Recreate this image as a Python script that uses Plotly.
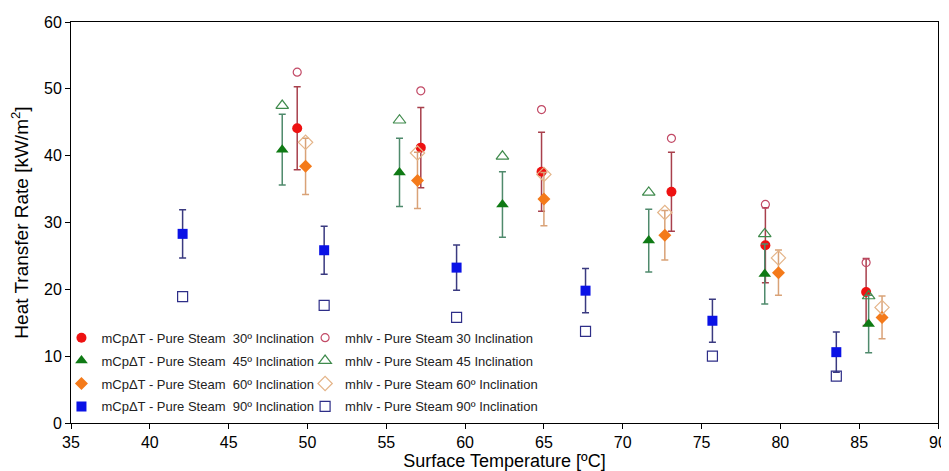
import plotly.graph_objects as go

# Surface temperature (x) for each series
x_30 = [49.35, 57.19, 64.85, 73.09, 79.05, 85.44]
x_45 = [48.40, 55.84, 62.37, 71.65, 79.01, 85.60]
x_60 = [49.88, 56.98, 65.00, 72.67, 79.88, 86.45]
x_90 = [42.08, 51.06, 59.46, 67.64, 75.69, 83.55]

# mCpΔT heat transfer rate and error
q_mcp_30 = [44.1, 41.2, 37.6, 34.6, 26.6, 19.6]
err_30 = [6.2, 6.0, 5.9, 5.9, 5.6, 5.0]
q_mcp_45 = [40.9, 37.5, 32.7, 27.3, 22.3, 14.8]
err_45 = [5.3, 5.1, 4.9, 4.7, 4.5, 4.3]
q_mcp_60 = [38.4, 36.3, 33.5, 28.1, 22.5, 15.8]
err_60 = [4.2, 4.2, 4.0, 3.7, 3.4, 3.2]
q_mcp_90 = [28.3, 25.85, 23.25, 19.8, 15.3, 10.6]
err_90 = [3.6, 3.6, 3.4, 3.3, 3.2, 3.0]

# mhlv heat transfer rate
q_mhlv_30 = [52.5, 49.7, 46.9, 42.6, 32.7, 24.0]
q_mhlv_45 = [47.5, 45.3, 39.9, 34.5, 28.3, 19.0]
q_mhlv_60 = [42.0, 40.4, 37.2, 31.5, 24.7, 17.3]
q_mhlv_90 = [18.9, 17.6, 15.8, 13.7, 10.0, 7.0]

NB = "\u00a0"
names_mcp = [
    "mCpΔT - Pure Steam " + NB + "30º Inclination",
    "mCpΔT - Pure Steam " + NB + "45º Inclination",
    "mCpΔT - Pure Steam " + NB + "60º Inclination",
    "mCpΔT - Pure Steam " + NB + "90º Inclination",
]
names_mhlv = [
    "mhlv - Pure Steam 30 Inclination",
    "mhlv - Pure Steam 45 Inclination",
    "mhlv - Pure Steam 60º Inclination",
    "mhlv - Pure Steam 90º Inclination",
]

fig = go.Figure()

mcp_specs = [
    (x_30, q_mcp_30, err_30, "circle", "#ee1111", "#a8404c", 10),
    (x_45, q_mcp_45, err_45, "triangle-up", "#0f7a14", "#4f8a6c", 11),
    (x_60, q_mcp_60, err_60, "diamond", "#f47a1a", "#d9a277", 10),
    (x_90, q_mcp_90, err_90, "square", "#0a12e6", "#3a3a80", 10),
]
mhlv_specs = [
    (x_30, q_mhlv_30, "circle-open", "#c24a66", 8),
    (x_45, q_mhlv_45, "triangle-up-open", "#3f8a4c", 11),
    (x_60, q_mhlv_60, "diamond-open", "#e4b488", 11),
    (x_90, q_mhlv_90, "square-open", "#2e2e88", 10),
]

for i, (xs, ys, es, sym, col, ecol, sz) in enumerate(mcp_specs):
    fig.add_trace(go.Scatter(
        x=xs, y=ys, mode="markers", name=names_mcp[i],
        legendgroup="a%d" % i, legend="legend",
        marker=dict(symbol=sym, color=col, size=sz, line=dict(width=0)),
        error_y=dict(type="data", array=es, visible=True, color=ecol,
                     thickness=1.5, width=3.5),
    ))

for i, (xs, ys, sym, col, sz) in enumerate(mhlv_specs):
    fig.add_trace(go.Scatter(
        x=xs, y=ys, mode="markers", name=names_mhlv[i],
        legendgroup="b%d" % i, legend="legend2",
        marker=dict(symbol=sym, color=col, size=sz, line=dict(width=1.2, color=col)),
    ))

font_main = "Liberation Sans, Arial, sans-serif"
leg_common = dict(
    font=dict(family=font_main, size=13, color="#222222"),
    bgcolor="rgba(255,255,255,0)", borderwidth=0,
    orientation="v", xanchor="left", yanchor="top",
    tracegroupgap=3, itemsizing="trace",
)

# page body has an 8px margin: size figure so plot area lands where the reference has it
fig.update_layout(
    width=941, height=463,
    margin=dict(l=63, r=11, t=14, b=48, autoexpand=False),
    paper_bgcolor="white", plot_bgcolor="white",
    font=dict(family=font_main, color="black"),
    showlegend=True,
    legend=dict(x=-0.011, y=0.25, **leg_common),
    legend2=dict(x=0.27, y=0.25, **leg_common),
    xaxis=dict(
        range=[35, 90], dtick=5, tick0=35, automargin=False,
        showgrid=False, zeroline=False,
        showline=True, linecolor="black", linewidth=1, mirror=True,
        ticks="outside", ticklen=5, tickcolor="black",
        tickfont=dict(family=font_main, size=16, color="black"),
        title=dict(text="Surface Temperature [ºC]", standoff=1,
                   font=dict(family=font_main, size=18, color="black")),
    ),
    yaxis=dict(
        range=[0, 60], dtick=10, automargin=False,
        showgrid=False, zeroline=False,
        showline=True, linecolor="black", linewidth=1, mirror=True,
        ticks="outside", ticklen=5, tickcolor="black",
        tickfont=dict(family=font_main, size=16, color="black"),
        title=dict(text="Heat Transfer Rate [kW/m<sup>2</sup>]", standoff=15,
                   font=dict(family=font_main, size=19, color="black")),
    ),
)

fig.write_html("out.html")
